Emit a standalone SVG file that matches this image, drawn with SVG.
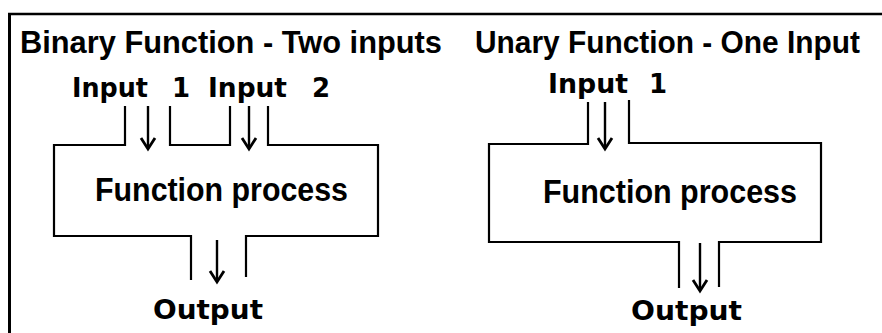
<svg xmlns="http://www.w3.org/2000/svg" width="882" height="333" viewBox="0 0 882 333">
<defs>
<style>
.ln{fill:none;stroke:#000;stroke-width:2.2;stroke-linecap:butt;stroke-linejoin:miter}
.ar{fill:none;stroke:#000;stroke-width:2.4}
.ah{fill:none;stroke:#000;stroke-width:2.8;stroke-linejoin:miter}
.title{font-family:"Liberation Sans",Arial,sans-serif;font-weight:bold;font-size:31px;fill:#000}
.proc{font-family:"Liberation Sans",Arial,sans-serif;font-weight:bold;font-size:34px;fill:#000}
.io{font-family:"DejaVu Sans",Verdana,sans-serif;font-weight:bold;font-size:26px;fill:#000}
</style>
</defs>
<rect width="882" height="333" fill="#fff"/>
<g id="frame">
<line x1="8" y1="14" x2="882" y2="14" stroke="#000" stroke-width="2.5"/>
<line x1="9.5" y1="13" x2="9.5" y2="333" stroke="#000" stroke-width="3"/>
</g>
<g id="binary">
<text class="title" x="20" y="53" textLength="422" lengthAdjust="spacingAndGlyphs">Binary Function - Two inputs</text>
<text class="io" y="97"><tspan x="72" textLength="76" lengthAdjust="spacingAndGlyphs">Input</tspan><tspan x="172">1</tspan><tspan x="208" textLength="79" lengthAdjust="spacingAndGlyphs">Input</tspan><tspan x="312">2</tspan></text>
<path class="ln" d="M125,106 V145 H54 V236 H191 V280"/>
<path class="ln" d="M170,106 V145 H230 V106"/>
<path class="ln" d="M268,106 V145 H378 V236 H246 V277"/>
<text class="proc" x="95" y="201" textLength="253" lengthAdjust="spacingAndGlyphs">Function process</text>
<text class="io" x="153" y="319" textLength="110" lengthAdjust="spacingAndGlyphs">Output</text>
</g>
<g id="unary">
<text class="title" x="475" y="53" textLength="385" lengthAdjust="spacingAndGlyphs">Unary Function - One Input</text>
<text class="io" y="93"><tspan x="548" textLength="80" lengthAdjust="spacingAndGlyphs">Input</tspan><tspan x="649">1</tspan></text>
<path class="ln" d="M588,102 V144 H489 V242 H679 V288"/>
<path class="ln" d="M629,100 V143 H821 V242 H719 V287"/>
<text class="proc" x="543" y="203" textLength="254" lengthAdjust="spacingAndGlyphs">Function process</text>
<text class="io" x="631" y="320" textLength="111" lengthAdjust="spacingAndGlyphs">Output</text>
</g>
<g id="connectors">
<line class="ar" x1="148" y1="106" x2="148" y2="148"/>
<path class="ah" d="M141,138 L148,149 L155,138"/>
<line class="ar" x1="249" y1="106" x2="249" y2="148"/>
<path class="ah" d="M242,138 L249,149 L256,138"/>
<line class="ar" x1="217" y1="240" x2="217" y2="281"/>
<path class="ah" d="M210,271 L217,282 L224,271"/>
<line class="ar" x1="605" y1="102" x2="605" y2="148"/>
<path class="ah" d="M598,138 L605,149 L612,138"/>
<line class="ar" x1="700" y1="243" x2="700" y2="290"/>
<path class="ah" d="M693,280 L700,291 L707,280"/>
</g>
</svg>
